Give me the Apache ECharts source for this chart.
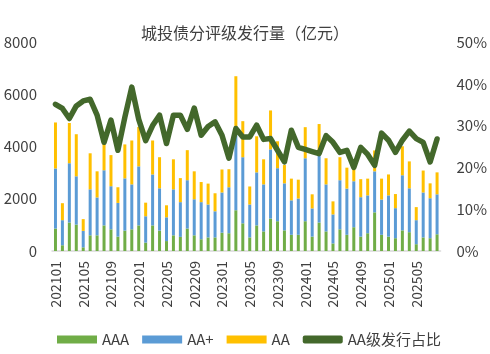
<!DOCTYPE html>
<html>
<head>
<meta charset="utf-8">
<script src="https://cdn.jsdelivr.net/npm/echarts@6/dist/echarts.min.js"></script>
<style>
  html, body { margin: 0; padding: 0; background: #fff; }
  #chart { width: 490px; height: 354px; }
</style>
</head>
<body>
<div id="chart"></div>
<script>
  const months = [
    '202101', '202102', '202103', '202104', '202105', '202106', '202107', '202108', '202109', '202110', '202111', '202112',
    '202201', '202202', '202203', '202204', '202205', '202206', '202207', '202208', '202209', '202210', '202211', '202212',
    '202301', '202302', '202303', '202304', '202305', '202306', '202307', '202308', '202309', '202310', '202311', '202312',
    '202401', '202402', '202403', '202404', '202405', '202406', '202407', '202408', '202409', '202410', '202411', '202412',
    '202501', '202502', '202503', '202504', '202505', '202506', '202507', '202508'
  ]

  // 亿元
  const aaa = [
    860, 220, 1090, 1010, 140, 600, 600, 980, 830, 550, 780, 830,
    980, 320, 980, 780, 380, 600, 540, 860, 600, 450, 520, 520,
    700, 680, 1560, 1060, 520, 980, 750, 1240, 1140, 790, 620, 620,
    1140, 550, 1090, 750, 290, 830, 620, 910, 550, 680, 1480, 620,
    550, 490, 790, 720, 260, 520, 490, 640
  ]
  const aaPlus = [
    2300, 960, 2270, 1850, 630, 1760, 1450, 2110, 1650, 1290, 2000, 1720,
    2260, 1010, 1950, 1620, 910, 1760, 1330, 1850, 1380, 1420, 1260, 1000,
    1540, 1760, 3170, 2530, 1260, 2030, 1800, 2650, 2030, 1800, 1320, 1390,
    2410, 1080, 2640, 1800, 1110, 1880, 1770, 1760, 1510, 1450, 1570, 1350,
    1580, 1150, 2110, 1680, 920, 1720, 1530, 1530
  ]
  const aa = [
    1760, 650, 1540, 1610, 450, 1380, 1000, 1080, 1190, 600, 1300, 1680,
    1510, 520, 1300, 1190, 460, 1150, 920, 1150, 1070, 770, 800, 690,
    880, 690, 1960, 1380, 690, 1380, 960, 1490, 1030, 700, 830, 720,
    1190, 540, 1130, 1000, 500, 880, 800, 680, 690, 640, 800, 800,
    800, 540, 1110, 1030, 500, 840, 570, 840
  ]
  // %
  const aaShare = [
    35.1, 34.1, 31.7, 34.7, 35.9, 36.3, 32.5, 26.0, 31.3, 24.1, 32.0, 39.2,
    31.5, 26.4, 30.0, 32.5, 25.7, 32.5, 32.5, 29.1, 34.2, 27.7, 29.8, 30.9,
    27.7, 22.2, 29.3, 27.3, 27.3, 30.1, 26.7, 26.9, 24.1, 21.3, 28.9, 24.8,
    24.3, 23.8, 23.3, 27.6, 26.0, 23.6, 24.1, 20.0, 24.8, 23.1, 20.5, 28.2,
    26.5, 23.6, 26.5, 28.7, 26.9, 26.0, 21.3, 26.8
  ]

  const FONT = '"Noto Sans CJK SC", "Noto Sans", sans-serif'
  const TEXT = '#404040'

  const chart = echarts.init(document.getElementById('chart'))
  chart.setOption({
    animation: false,
    textStyle: { fontFamily: FONT },
    title: {
      text: '城投债分评级发行量（亿元）',
      left: 136,
      top: 20,
      textStyle: { fontSize: 16, fontWeight: 'normal', color: TEXT, fontFamily: FONT },
    },
    grid: { left: 52, right: 48, top: 42, bottom: 103 },
    legend: {
      left: 52,
      top: 327,
      itemWidth: 40,
      itemHeight: 8,
      itemGap: 13,
      textStyle: { fontSize: 15, color: TEXT, fontFamily: FONT },
      data: [
        { name: 'AAA', icon: 'rect' },
        { name: 'AA+', icon: 'rect' },
        { name: 'AA', icon: 'rect' },
        { name: 'AA级发行占比', icon: 'roundRect' },
      ],
    },
    xAxis: {
      type: 'category',
      data: months,
      axisTick: { show: false },
      axisLine: { lineStyle: { color: '#d9d9d9', width: 1.5 } },
      axisLabel: { rotate: 90, interval: 3, fontSize: 14, color: TEXT, margin: 10 },
    },
    yAxis: [
      {
        type: 'value',
        min: 0,
        max: 8000,
        interval: 2000,
        splitLine: { show: false },
        axisLabel: { fontSize: 15, color: TEXT, margin: 15, formatter: (v) => String(v) },
      },
      {
        type: 'value',
        min: 0,
        max: 50,
        interval: 10,
        splitLine: { show: false },
        axisLabel: { fontSize: 15, color: TEXT, margin: 16, formatter: '{value}%' },
      },
    ],
    series: [
      { name: 'AAA', type: 'bar', stack: 'total', barWidth: 3, itemStyle: { color: '#70AD47' }, data: aaa },
      { name: 'AA+', type: 'bar', stack: 'total', barWidth: 3, itemStyle: { color: '#5B9BD5' }, data: aaPlus },
      { name: 'AA', type: 'bar', stack: 'total', barWidth: 3, itemStyle: { color: '#FFC000' }, data: aa },
      {
        name: 'AA级发行占比',
        type: 'line',
        yAxisIndex: 1,
        symbol: 'none',
        z: 10,
        itemStyle: { color: '#43682B' },
        lineStyle: { color: '#43682B', width: 5.5, join: 'round', cap: 'round' },
        data: aaShare,
      },
    ],
  })
</script>
</body>
</html>
